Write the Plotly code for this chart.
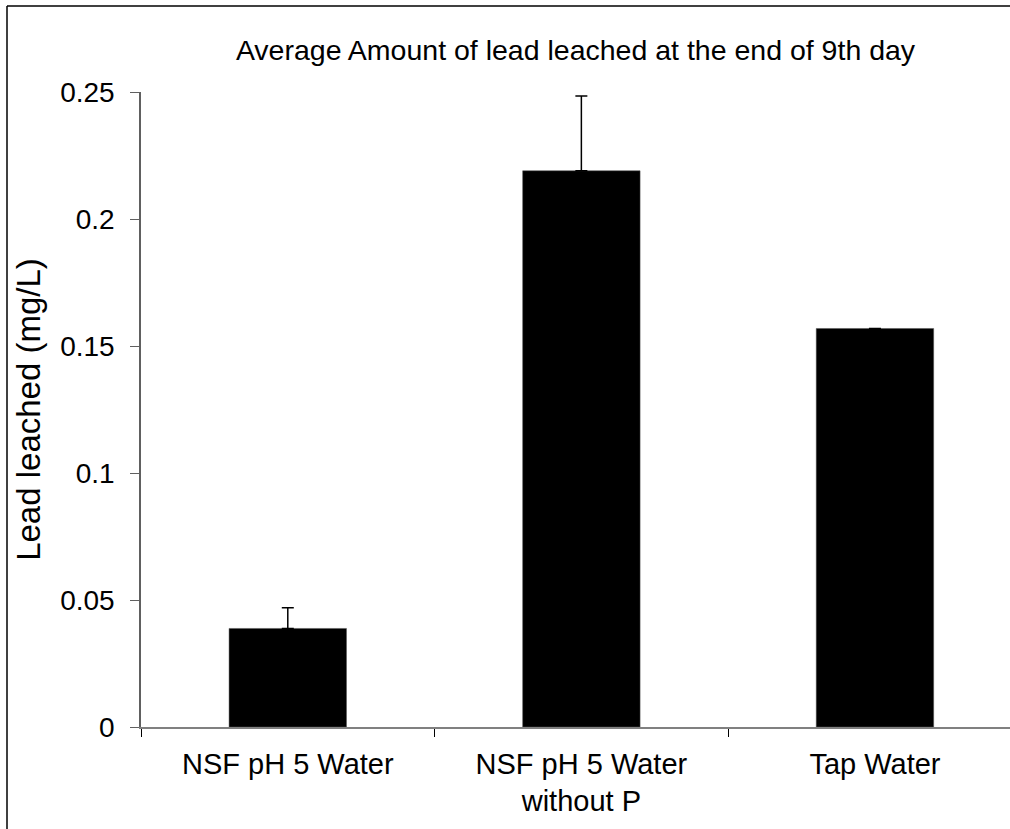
import plotly.graph_objects as go

categories = ["NSF pH 5 Water", "NSF pH 5 Water<br>without P", "Tap Water"]
values = [0.0388, 0.2190, 0.1569]
errors = [0.0081, 0.0294, None]
y_ticks = [0, 0.05, 0.1, 0.15, 0.2, 0.25]
y_tick_labels = ["0", "0.05", "0.1", "0.15", "0.2", "0.25"]

FONT = "Liberation Sans, Arial, sans-serif"

fig = go.Figure()
fig.add_trace(go.Bar(
    x=categories, y=values, width=0.4,
    marker=dict(color="black", line=dict(color="#555555", width=0.5)),
    error_y=dict(type="data", array=errors, symmetric=False, arrayminus=[0, 0, 0],
                 color="black", thickness=1.5, width=6, visible=True),
))

L, T, B = 141, 92, 102
W, H = 1010, 829
pw = W - L
ph = H - T - B

fig.update_layout(
    width=W, height=H,
    margin=dict(l=L, r=0, t=T, b=B),
    paper_bgcolor="white", plot_bgcolor="white",
    showlegend=False,
    font=dict(family=FONT, color="black"),
    title=dict(text="Average Amount of lead leached at the end of 9th day",
               x=(L + pw / 2) / W, xanchor="center", y=1 - 50 / H, yanchor="middle",
               font=dict(size=28.5, family=FONT, color="black")),
)
fig.update_xaxes(
    range=[-0.5, 2.46], type="category",
    showline=True, linecolor="#808080", linewidth=1.5,
    ticks="outside", tickson="boundaries", ticklen=8, tickcolor="black", tickwidth=1,
    tickfont=dict(size=29, family=FONT, color="black"),
    ticklabelstandoff=10,
    showgrid=False, zeroline=False,
)
fig.update_yaxes(
    range=[0, 0.25], tickvals=y_ticks, ticktext=y_tick_labels,
    showline=True, linecolor="#606060", linewidth=1.5,
    ticks="outside", ticklen=9, tickcolor="#606060", tickwidth=1,
    tickfont=dict(size=28, family=FONT, color="black"),
    ticklabelstandoff=10,
    showgrid=False, zeroline=False,
    title=dict(text="Lead leached (mg/L)", font=dict(size=33, family=FONT, color="black"), standoff=10),
)

# outer border (only left and top edges are visible in the frame)
bx = (7 - L) / pw
by = (H - B - 6) / ph
fig.add_shape(type="line", xref="paper", yref="paper",
              x0=bx, x1=bx, y0=-0.3, y1=by,
              line=dict(color="black", width=1.5), layer="above")
fig.add_shape(type="line", xref="paper", yref="paper",
              x0=bx, x1=1.05, y0=by, y1=by,
              line=dict(color="black", width=1.5), layer="above")

fig.write_html("out.html", config={"displayModeBar": False},
               post_script="document.body.style.margin='0';document.body.style.overflow='hidden';")
